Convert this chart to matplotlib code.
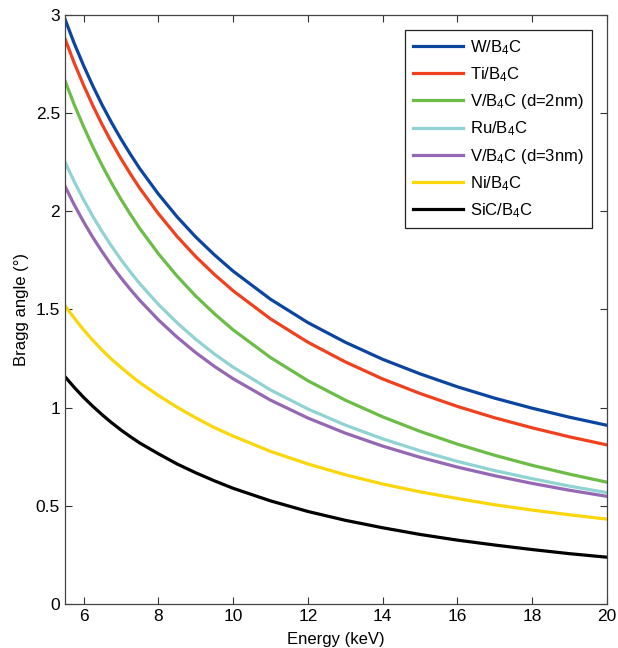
import numpy as np
import matplotlib
matplotlib.use('Agg')
import matplotlib.pyplot as plt

plt.rcParams['font.family'] = ['Liberation Sans', 'DejaVu Sans']
plt.rcParams['mathtext.fontset'] = 'custom'
plt.rcParams['mathtext.rm'] = 'Liberation Sans'
plt.rcParams['mathtext.it'] = 'Liberation Sans:italic'

# energia en keV
energy = [5.5, 5.75, 6, 6.25, 6.5, 6.75, 7, 7.25, 7.5, 8, 8.5, 9, 9.5, 10,
          11, 12, 13, 14, 15, 16, 17, 18, 19, 20]

# angulo de Bragg (grados) para cada multicapa
w_b4c = [2.980, 2.855, 2.742, 2.637, 2.540, 2.451, 2.368, 2.291, 2.218, 2.088, 1.972, 1.869,
         1.778, 1.695, 1.552, 1.433, 1.333, 1.246, 1.172, 1.106, 1.048, 0.997, 0.951, 0.910]
ti_b4c = [2.880, 2.755, 2.642, 2.537, 2.440, 2.351, 2.268, 2.191, 2.118, 1.988, 1.872, 1.769,
          1.678, 1.595, 1.452, 1.333, 1.233, 1.146, 1.072, 1.006, 0.948, 0.897, 0.851, 0.810]
v2_b4c = [2.666, 2.543, 2.431, 2.327, 2.232, 2.143, 2.061, 1.985, 1.913, 1.784, 1.670, 1.568,
          1.478, 1.396, 1.255, 1.137, 1.038, 0.953, 0.879, 0.814, 0.757, 0.706, 0.661, 0.620]
ru_b4c = [2.252, 2.151, 2.059, 1.973, 1.895, 1.822, 1.754, 1.691, 1.632, 1.526, 1.432, 1.348,
          1.273, 1.206, 1.090, 0.993, 0.911, 0.841, 0.780, 0.726, 0.679, 0.638, 0.600, 0.567]
v3_b4c = [2.128, 2.033, 1.946, 1.866, 1.793, 1.724, 1.661, 1.602, 1.547, 1.447, 1.359, 1.280,
          1.210, 1.147, 1.038, 0.947, 0.870, 0.804, 0.747, 0.697, 0.653, 0.614, 0.579, 0.548]
ni_b4c = [1.519, 1.456, 1.396, 1.342, 1.292, 1.246, 1.205, 1.165, 1.128, 1.062, 1.002, 0.948,
          0.898, 0.855, 0.777, 0.713, 0.658, 0.611, 0.571, 0.537, 0.505, 0.478, 0.454, 0.432]
sic_b4c = [1.158, 1.103, 1.052, 1.006, 0.963, 0.923, 0.886, 0.852, 0.820, 0.765, 0.713, 0.668,
           0.627, 0.589, 0.525, 0.471, 0.426, 0.388, 0.354, 0.325, 0.300, 0.277, 0.256, 0.238]

series = [w_b4c, ti_b4c, v2_b4c, ru_b4c, v3_b4c, ni_b4c, sic_b4c]
labels = [r'W/B$_4$C', r'Ti/B$_4$C', r'V/B$_4$C (d=2nm)', r'Ru/B$_4$C',
          r'V/B$_4$C (d=3nm)', r'Ni/B$_4$C', r'SiC/B$_4$C']
colors = ['#0b45a0', '#f0411e', '#6cbd48', '#91d3d3', '#9568b4', '#fad60a', '#000000']

fig = plt.figure(figsize=(6.18, 6.48), dpi=100)
ax = fig.add_axes([0.105, 0.068, 0.877, 0.909])

for y, lab, c in zip(series, labels, colors):
    ax.plot(energy, y, color=c, lw=2.3, label=lab, solid_joinstyle='round')

ax.set_xlim(5.5, 20)
ax.set_ylim(0, 3)
ax.set_xticks([6, 8, 10, 12, 14, 16, 18, 20])
ax.set_yticks([0, 0.5, 1, 1.5, 2, 2.5, 3])
ax.set_yticklabels(['0', '0.5', '1', '1.5', '2', '2.5', '3'])
ax.tick_params(direction='in', top=True, right=True, labelsize=12.5, length=5,
               color='#333333', width=0.8)
for s in ax.spines.values():
    s.set_color('#444444')
    s.set_linewidth(0.9)

ax.set_xlabel('Energy (keV)', fontsize=12, labelpad=6)
ax.set_ylabel('Bragg angle (°)', fontsize=12, labelpad=5)

leg = ax.legend(loc='upper right', fontsize=12, handlelength=3.0, fancybox=False,
                framealpha=1, edgecolor='#222222', borderaxespad=0.9,
                labelspacing=0.5, handletextpad=0.4, borderpad=0.5)
leg.get_frame().set_linewidth(0.9)

fig.savefig('out.png', dpi=100)
